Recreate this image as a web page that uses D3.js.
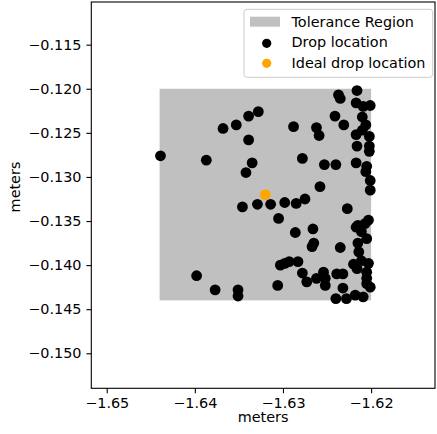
<!DOCTYPE html>
<html>
<head>
<meta charset="utf-8">
<script src="https://cdn.jsdelivr.net/npm/d3@7"></script>
<style>
  body { margin: 0; background: #fff; }
  text { font-family: "DejaVu Sans", sans-serif; }
</style>
</head>
<body>
<svg id="chart" width="437" height="434"></svg>
<script>
"use strict";

// drop locations (meters)
var dropX = [
  -1.6439, -1.6387, -1.6368, -1.6353, -1.6339, -1.6328, -1.6339, -1.6335, -1.6342, -1.6288,
  -1.6278, -1.6262, -1.6259, -1.6253, -1.6240, -1.6241, -1.6231, -1.6258, -1.6237, -1.6235,
  -1.6216, -1.6217, -1.6209, -1.6201, -1.6210, -1.6206, -1.6210, -1.6217, -1.6202, -1.6216,
  -1.6202, -1.6202, -1.6217, -1.6205, -1.6206, -1.6201, -1.6201, -1.6346, -1.6329, -1.6314,
  -1.6298, -1.6285, -1.6275, -1.6305, -1.6286, -1.6266, -1.6265, -1.6267, -1.6235, -1.6227,
  -1.6203, -1.6207, -1.6215, -1.6217, -1.6211, -1.6205, -1.6215, -1.6214, -1.6303, -1.6298,
  -1.6293, -1.6283, -1.6278, -1.6273, -1.6262, -1.6254, -1.6252, -1.6252, -1.6239, -1.6232,
  -1.6232, -1.6240, -1.6228, -1.6220, -1.6216, -1.6211, -1.6203, -1.6205, -1.6205, -1.6205,
  -1.6201, -1.6218, -1.6209, -1.6398, -1.6377, -1.6351, -1.6351, -1.6306
];
var dropY = [
  -0.1276, -0.1281, -0.1245, -0.1241, -0.1231, -0.1226, -0.1258, -0.1284, -0.1295, -0.1243,
  -0.1279, -0.1244, -0.1253, -0.1286, -0.1286, -0.1231, -0.1241, -0.1311, -0.1207, -0.1211,
  -0.1202, -0.1216, -0.1220, -0.1219, -0.1232, -0.1241, -0.1247, -0.1252, -0.1254, -0.1265,
  -0.1265, -0.1271, -0.1284, -0.1288, -0.1294, -0.1304, -0.1315, -0.1334, -0.1331, -0.1331,
  -0.1329, -0.1330, -0.1325, -0.1347, -0.1363, -0.1359, -0.1375, -0.1379, -0.1380, -0.1336,
  -0.1349, -0.1353, -0.1355, -0.1357, -0.1362, -0.1370, -0.1375, -0.1385, -0.1400, -0.1398,
  -0.1396, -0.1396, -0.1409, -0.1419, -0.1415, -0.1408, -0.1415, -0.1423, -0.1410, -0.1410,
  -0.1426, -0.1438, -0.1438, -0.1399, -0.1404, -0.1395, -0.1398, -0.1408, -0.1415, -0.1421,
  -0.1425, -0.1434, -0.1436, -0.1412, -0.1428, -0.1428, -0.1435, -0.1423
];

var idealX = -1.632;
var idealY = -0.132;
var tolerance = 0.012;

var xTicks = [-1.65, -1.64, -1.63, -1.62];
var yTicks = [-0.115, -0.120, -0.125, -0.130, -0.135, -0.140, -0.145, -0.150];

var legendLabels = ["Tolerance Region", "Drop location", "Ideal drop location"];

var drops = dropX.map(function(d, i) { return { x: d, y: dropY[i] }; });

var svg = d3.select("#chart");
var plotL = 91.3, plotR = 435, plotT = 2, plotB = 388.3;
var fs = "14.4px";

var x = d3.scaleLinear().domain([-1.65175, -1.61275]).range([plotL, plotR]);
var y = d3.scaleLinear().domain([-0.11016, -0.15397]).range([plotT, plotB]);

var g = svg.append("g");

// tolerance square
g.append("rect")
  .attr("x", x(idealX - tolerance))
  .attr("y", y(idealY + tolerance))
  .attr("width", x(idealX + tolerance) - x(idealX - tolerance))
  .attr("height", y(idealY - tolerance) - y(idealY + tolerance))
  .attr("fill", "#c0c0c0");

g.selectAll(".drop")
  .data(drops)
  .enter()
  .append("circle")
    .attr("class", "drop")
    .attr("cx", function(d) { return x(d.x); })
    .attr("cy", function(d) { return y(d.y); })
    .attr("r", 5.4)
    .attr("fill", "black");

g.append("circle")
  .attr("cx", x(idealX))
  .attr("cy", y(idealY))
  .attr("r", 5.4)
  .attr("fill", "orange");

// axes
var xAxis = d3.axisBottom(x).tickValues(xTicks).tickFormat(d3.format(".2f")).tickSizeOuter(0).tickSize(4.9).tickPadding(4.9);
var yAxis = d3.axisLeft(y).tickValues(yTicks).tickFormat(d3.format(".3f")).tickSizeOuter(0).tickSize(4.9).tickPadding(4.9);

function styleAxis(a) {
  a.select(".domain").remove();
  a.selectAll("line").attr("stroke", "black").attr("stroke-width", 1.1);
  a.selectAll("text").attr("font-size", fs).attr("fill", "black")
    .attr("font-family", "DejaVu Sans");
}

svg.append("g")
  .attr("transform", "translate(0," + plotB + ")")
  .call(xAxis)
  .call(styleAxis);

svg.append("g")
  .attr("transform", "translate(" + plotL + ",0)")
  .call(yAxis)
  .call(styleAxis);

// frame
svg.append("rect")
  .attr("x", plotL).attr("y", plotT)
  .attr("width", plotR - plotL).attr("height", plotB - plotT)
  .attr("fill", "none").attr("stroke", "black").attr("stroke-width", 1.1);

// axis labels
svg.append("text")
  .attr("x", (plotL + plotR) / 2).attr("y", 422)
  .attr("text-anchor", "middle").attr("font-size", fs)
  .text("meters");

svg.append("text")
  .attr("transform", "translate(19.5,187) rotate(-90)")
  .attr("text-anchor", "middle").attr("font-size", fs)
  .text("meters");

// legend
var lg = svg.append("g").attr("transform", "translate(244,9.3)");
lg.append("rect")
  .attr("width", 188.7).attr("height", 68)
  .attr("rx", 3)
  .attr("fill", "white").attr("fill-opacity", 0.8)
  .attr("stroke", "#cccccc").attr("stroke-width", 1);

lg.append("rect")
  .attr("x", 6).attr("y", 7.4).attr("width", 30).attr("height", 10)
  .attr("fill", "#c0c0c0");
lg.append("circle").attr("cx", 22.7).attr("cy", 34).attr("r", 4.6).attr("fill", "black");
lg.append("circle").attr("cx", 22.7).attr("cy", 54).attr("r", 4.6).attr("fill", "orange");

lg.selectAll(".lt")
  .data(legendLabels)
  .enter()
  .append("text")
    .attr("class", "lt")
    .attr("x", 47.5)
    .attr("y", function(d, i) { return 12.4 + i * 20.6; })
    .attr("dy", "0.35em")
    .attr("font-size", fs)
    .text(function(d) { return d; });
</script>
</body>
</html>
